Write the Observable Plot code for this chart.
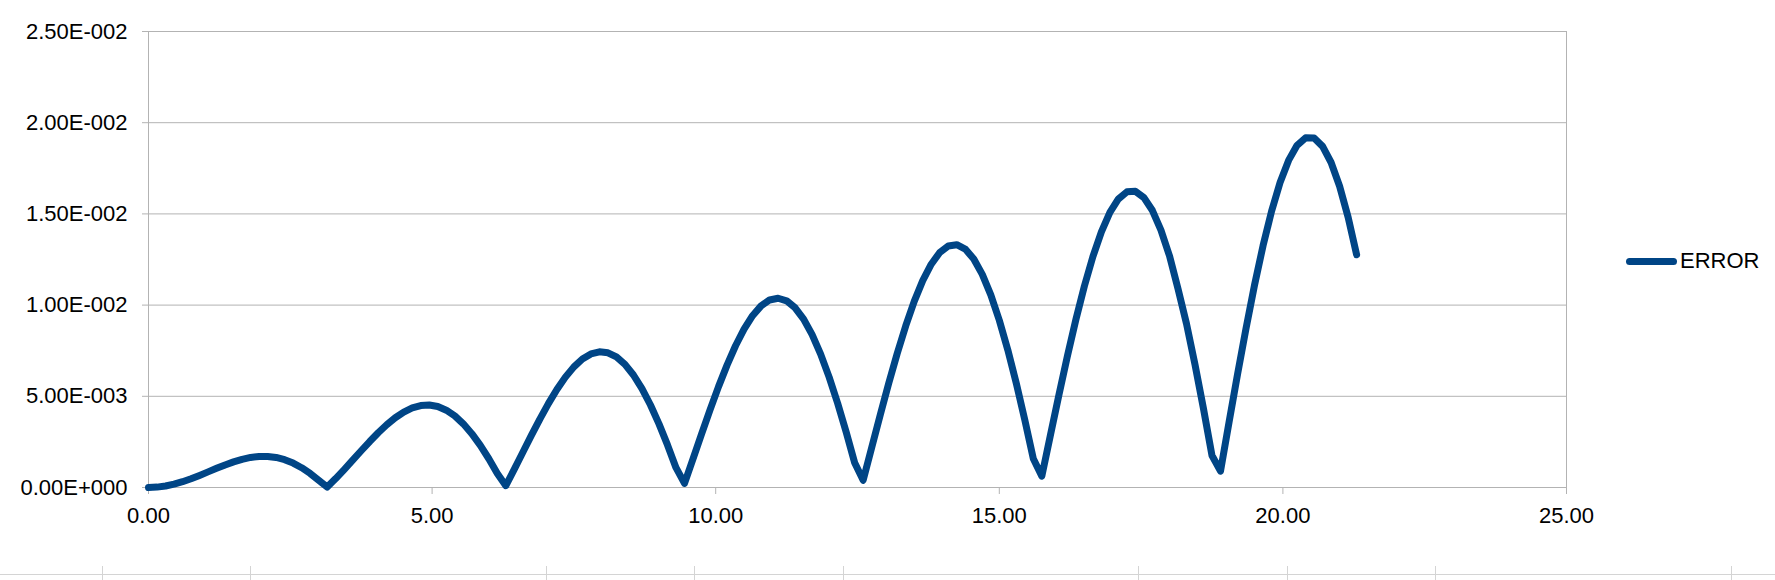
<!DOCTYPE html>
<html>
<head>
<meta charset="utf-8">
<script src="https://cdn.jsdelivr.net/npm/d3@7"></script>
<script src="https://cdn.jsdelivr.net/npm/@observablehq/plot@0.6"></script>
<style>
  html, body { margin: 0; padding: 0; background: #fff; }
  #wrap { position: relative; width: 1775px; height: 580px; overflow: hidden; font-family: "Liberation Sans", Arial, sans-serif; }
  #legend { position: absolute; left: 1626px; top: 250px; display: flex; align-items: center; font-size: 22px; line-height: 22px; color: #000; }
  #legend .swatch { width: 51px; height: 7px; border-radius: 3.5px; background: #004586; margin-right: 3px; }
  .cellH { position: absolute; left: 0; width: 1775px; top: 574px; height: 1px; background: #d4d4d4; }
  .cellV { position: absolute; top: 566px; width: 1px; height: 14px; background: #d4d4d4; }
</style>
</head>
<body>
<div id="wrap"></div>
<script>
// X values (time) and ERROR series
const xValues = [
  0, 0.15, 0.3, 0.45, 0.6, 0.75, 0.9, 1.05, 1.2, 1.35, 1.5, 1.65, 1.8, 1.95, 2.1, 2.25, 2.4, 2.55, 2.7, 2.85, 3.0,
  3.15, 3.3, 3.45, 3.6, 3.75, 3.9, 4.05, 4.2, 4.35, 4.5, 4.65, 4.8, 4.95, 5.1, 5.25, 5.4, 5.55, 5.7, 5.85, 6.0, 6.15,
  6.3, 6.45, 6.6, 6.75, 6.9, 7.05, 7.2, 7.35, 7.5, 7.65, 7.8, 7.95, 8.1, 8.25, 8.4, 8.55, 8.7, 8.85, 9.0, 9.15, 9.3,
  9.45, 9.6, 9.75, 9.9, 10.05, 10.2, 10.35, 10.5, 10.65, 10.8, 10.95, 11.1, 11.25, 11.4, 11.55, 11.7, 11.85, 12.0, 12.15, 12.3, 12.45,
  12.6, 12.75, 12.9, 13.05, 13.2, 13.35, 13.5, 13.65, 13.8, 13.95, 14.1, 14.25, 14.4, 14.55, 14.7, 14.85, 15.0, 15.15, 15.3, 15.45, 15.6,
  15.75, 15.9, 16.05, 16.2, 16.35, 16.5, 16.65, 16.8, 16.95, 17.1, 17.25, 17.4, 17.55, 17.7, 17.85, 18.0, 18.15, 18.3, 18.45, 18.6, 18.75,
  18.9, 19.05, 19.2, 19.35, 19.5, 19.65, 19.8, 19.95, 20.1, 20.25, 20.4, 20.55, 20.7, 20.85, 21.0, 21.15, 21.3
];
const errorValues = [
  0, 0.000021, 0.000083, 0.000184, 0.000318, 0.000481, 0.000663, 0.000856, 0.001051, 0.001238, 0.001406, 0.001546, 0.001648, 0.001703, 0.001704, 0.001646, 0.001524, 0.001337, 0.001085, 0.000770, 0.000398,
  0.000025, 0.000489, 0.000984, 0.001498, 0.002015, 0.002521, 0.003002, 0.003441, 0.003824, 0.004135, 0.004363, 0.004495, 0.004522, 0.004439, 0.004239, 0.003923, 0.003492, 0.002951, 0.002308, 0.001576, 0.000768,
  0.000100, 0.001007, 0.001933, 0.002856, 0.003752, 0.004599, 0.005372, 0.006051, 0.006614, 0.007043, 0.007322, 0.007440, 0.007386, 0.007156, 0.006749, 0.006168, 0.005423, 0.004523, 0.003487, 0.002334, 0.001088,
  0.000224, 0.001573, 0.002928, 0.004258, 0.005529, 0.006710, 0.007771, 0.008683, 0.009419, 0.009958, 0.010282, 0.010377, 0.010235, 0.009851, 0.009231, 0.008380, 0.007314, 0.006053, 0.004619, 0.003043, 0.001359,
  0.000398, 0.002189, 0.003971, 0.005704, 0.007347, 0.008858, 0.010200, 0.011338, 0.012242, 0.012884, 0.013245, 0.013310, 0.013071, 0.012528, 0.011686, 0.010560, 0.009169, 0.007540, 0.005706, 0.003705, 0.001580,
  0.000622, 0.002853, 0.005060, 0.007194, 0.009204, 0.011040, 0.012658, 0.014017, 0.015080, 0.015818, 0.016208, 0.016236, 0.015894, 0.015184, 0.014115, 0.012706, 0.010900, 0.008984, 0.006746, 0.004318, 0.001752,
  0.000896, 0.003566, 0.006196, 0.008728, 0.011100, 0.013256, 0.015144, 0.016717, 0.017933, 0.018760, 0.019172, 0.019155, 0.018702, 0.017818, 0.016515, 0.014819, 0.012762
];
const xTicks = [0, 5, 10, 15, 20, 25];
const yTicks = [0, 0.005, 0.01, 0.015, 0.02, 0.025];
const seriesName = "ERROR";

const data = xValues.map((x, i) => ({x, y: errorValues[i]}));

function sci(v) {
  const [m, e] = v.toExponential(2).split("e");
  const n = +e;
  return m + "E" + (n < 0 ? "-" : "+") + String(Math.abs(n)).padStart(3, "0");
}
const fx = d3.format(".2f");

const gridColor = "#b3b3b3";
const chart = Plot.plot({
  width: 1775,
  height: 580,
  marginLeft: 148,
  marginRight: 209,
  marginTop: 31,
  marginBottom: 93,
  style: {fontFamily: "'Liberation Sans', Arial, sans-serif", fontSize: "22px", color: "#000", background: "transparent"},
  x: {domain: [0, 25]},
  y: {domain: [0, 0.025]},
  marks: [
    Plot.gridY(yTicks, {stroke: gridColor, strokeOpacity: 1, strokeWidth: 1}),
    Plot.ruleX([0, 25], {stroke: gridColor, strokeWidth: 1}),
    Plot.axisY(yTicks, {tickSize: 6, tickPadding: 15, stroke: gridColor, strokeOpacity: 1, fill: "#000", tickFormat: sci, fontSize: 22, label: null}),
    Plot.axisX(xTicks, {tickSize: 7, tickPadding: 13, stroke: gridColor, strokeOpacity: 1, fill: "#000", tickFormat: fx, fontSize: 22, label: null}),
    Plot.line(data, {x: "x", y: "y", stroke: "#004586", strokeWidth: 7, strokeLinejoin: "round", strokeLinecap: "round"})
  ]
});

const wrap = document.getElementById("wrap");
wrap.appendChild(chart);

// spreadsheet cell borders under the chart
const h = document.createElement("div"); h.className = "cellH"; wrap.appendChild(h);
[102, 250, 546, 694, 843, 1138, 1287, 1435, 1731].forEach(px => {
  const v = document.createElement("div"); v.className = "cellV"; v.style.left = px + "px"; wrap.appendChild(v);
});

// legend
const lg = document.createElement("div");
lg.id = "legend";
lg.innerHTML = '<span class="swatch"></span><span></span>';
lg.lastChild.textContent = seriesName;
wrap.appendChild(lg);
</script>
</body>
</html>
